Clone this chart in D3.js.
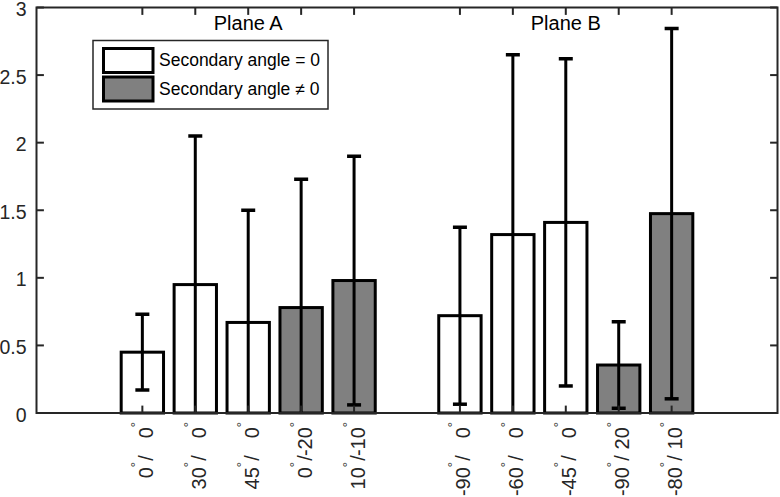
<!DOCTYPE html>
<html>
<head>
<meta charset="utf-8">
<script src="https://cdn.jsdelivr.net/npm/d3@7"></script>
<style>
  html, body { margin: 0; padding: 0; background: #fff; }
  svg { display: block; font-family: "Liberation Sans", Arial, Helvetica, sans-serif; }
  text { white-space: pre; }
</style>
</head>
<body>
<svg id="chart" width="780" height="497"></svg>
<script>
// ---- data ----
const primaryAngle   = [0, 30, 45, 0, 10, -90, -60, -45, -90, -80];
const secondaryAngle = [0, 0, 0, -20, -10, 0, 0, 0, 20, 10];
const planeIndex     = [0, 0, 0, 0, 0, 1, 1, 1, 1, 1];
const planeNames     = ["Plane A", "Plane B"];
const means          = [0.45, 0.95, 0.67, 0.78, 0.98, 0.72, 1.32, 1.41, 0.355, 1.475];
const errors         = [0.28, 1.10, 0.83, 0.95, 0.92, 0.655, 1.33, 1.21, 0.32, 1.37];
const yTicks         = [0, 0.5, 1, 1.5, 2, 2.5, 3];
const legendLabels   = ["Secondary angle = 0", "Secondary angle \u2260 0"];

// ---- layout ----
const L = 36.5, R = 777.5, T = 7.5, B = 413;
const svg = d3.select("#chart");
const slot = means.map((d, i) => i + 1 + planeIndex[i]);   // 1..5, 7..11
const x = d3.scaleLinear().domain([-1, 13]).range([L, R]);
const y = d3.scaleLinear().domain([0, 3]).range([B, T]);
const unit = x(1) - x(0);
const barW = 0.8 * unit;
const fillFor = i => secondaryAngle[i] === 0 ? "#ffffff" : "#808080";
const axisColor = "#262626";

svg.append("defs").append("clipPath").attr("id", "plotClip")
  .append("rect").attr("x", L).attr("y", T).attr("width", R - L).attr("height", B - T);

// bars
svg.append("g").selectAll("rect").data(means).join("rect")
  .attr("x", (d, i) => x(slot[i]) - barW / 2)
  .attr("y", d => y(d))
  .attr("width", barW)
  .attr("height", d => y(0) - y(d))
  .attr("fill", (d, i) => fillFor(i))
  .attr("stroke", "#000")
  .attr("stroke-width", 3);

// error bars
const eg = svg.append("g").attr("clip-path", "url(#plotClip)")
  .attr("stroke", "#000").attr("fill", "none");
means.forEach((m, i) => {
  const cx = x(slot[i]);
  const lo = m - errors[i], hi = m + errors[i];
  eg.append("line").attr("x1", cx).attr("x2", cx).attr("y1", y(lo)).attr("y2", y(hi)).attr("stroke-width", 3);
  [lo, hi].forEach(v => {
    eg.append("line").attr("x1", cx - 7).attr("x2", cx + 7).attr("y1", y(v)).attr("y2", y(v)).attr("stroke-width", 3.5);
  });
});

// axes box
const ax = svg.append("g").attr("stroke", axisColor).attr("fill", "none");
ax.append("rect").attr("x", L).attr("y", T).attr("width", R - L).attr("height", B - T).attr("stroke-width", 2);
yTicks.forEach(t => {
  ax.append("line").attr("x1", L).attr("x2", L + 7.4).attr("y1", y(t)).attr("y2", y(t)).attr("stroke-width", 2);
  ax.append("line").attr("x1", R).attr("x2", R - 7.4).attr("y1", y(t)).attr("y2", y(t)).attr("stroke-width", 2);
});
slot.forEach(s => {
  ax.append("line").attr("x1", x(s)).attr("x2", x(s)).attr("y1", B).attr("y2", B - 7.4).attr("stroke-width", 2);
  ax.append("line").attr("x1", x(s)).attr("x2", x(s)).attr("y1", T).attr("y2", T + 7.4).attr("stroke-width", 2);
});

// y tick labels
svg.append("g").selectAll("text").data(yTicks).join("text")
  .attr("x", 26.5).attr("y", d => y(d) + 8.5)
  .attr("text-anchor", "end").attr("font-size", 19.5).attr("fill", axisColor)
  .text(d => d3.format("")(d));

// x tick labels (rotated)
const lg = svg.append("g").attr("fill", axisColor).attr("font-size", 20);
slot.forEach((s, i) => {
  const g = lg.append("g").attr("transform", `translate(${x(s) + 10.5},0) rotate(-90)`);
  const t2 = g.append("text").attr("x", -422).attr("y", 0).attr("text-anchor", "end");
  t2.append("tspan").text(String(secondaryAngle[i]));
  t2.append("tspan").attr("font-size", 13).attr("dy", -13).text("\u00B0");
  g.append("text").attr("x", -458).attr("y", 0).attr("text-anchor", "middle").text("/");
  const t1 = g.append("text").attr("x", -462).attr("y", 0).attr("text-anchor", "end");
  t1.append("tspan").text(String(primaryAngle[i]));
  t1.append("tspan").attr("font-size", 13).attr("dy", -13).text("\u00B0");
});

// plane titles
planeNames.forEach((p, k) => {
  const idx = planeIndex.map((v, i) => v === k ? i : -1).filter(i => i >= 0);
  const mid = d3.mean(idx.map(i => slot[i]));
  svg.append("text").attr("x", x(mid)).attr("y", 30).attr("text-anchor", "middle")
    .attr("font-size", 20).attr("fill", "#000").text(p);
});

// legend
const leg = svg.append("g");
leg.append("rect").attr("x", 93).attr("y", 40.5).attr("width", 235).attr("height", 68.5)
  .attr("fill", "#fff").attr("stroke", axisColor).attr("stroke-width", 1.5);
legendLabels.forEach((lab, k) => {
  const yy = 48.5 + k * 28.5;
  leg.append("rect").attr("x", 103.5).attr("y", yy).attr("width", 49.5).attr("height", 24)
    .attr("fill", k === 0 ? "#ffffff" : "#808080").attr("stroke", "#000").attr("stroke-width", 3);
  leg.append("text").attr("x", 159).attr("y", yy + 17.8).attr("font-size", 17.5).attr("fill", "#000").text(lab);
});
</script>
</body>
</html>
